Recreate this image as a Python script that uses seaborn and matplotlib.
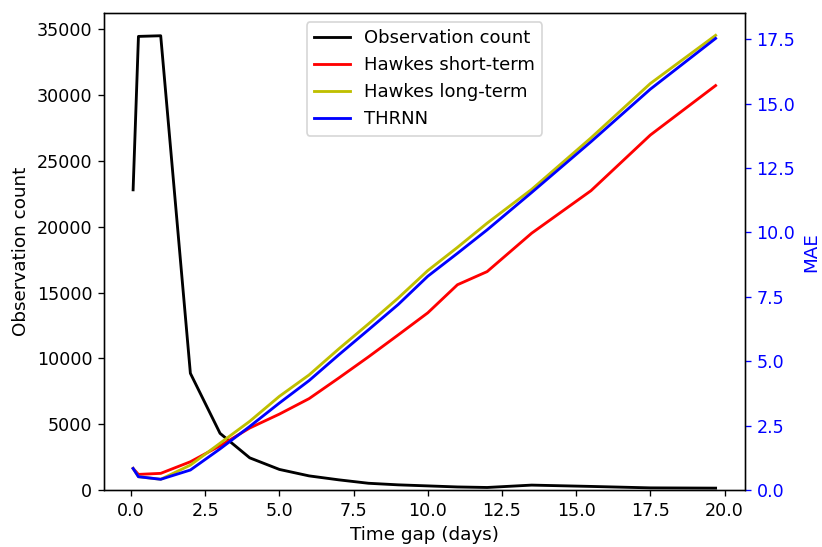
import matplotlib
matplotlib.use("Agg")
from matplotlib import pyplot as plt
import numpy as np
import pandas as pd
import seaborn as sns

# time gap (days)
gap = [0.07, 0.25, 1, 2, 3, 4, 5, 6, 7, 8, 9, 10, 11, 12, 13.5, 15.5, 17.5, 19.7]

# observation count per gap
count = [22800, 34450, 34500, 8870, 4310, 2450, 1570, 1080, 780, 520,
         400, 320, 240, 200, 380, 280, 170, 150]

# MAE for each model
hawkes_short = [0.84, 0.61, 0.65, 1.10, 1.72, 2.41, 2.95, 3.55, 4.35, 5.17,
                6.02, 6.88, 7.97, 8.48, 9.97, 11.62, 13.78, 15.70]
hawkes_long = [0.84, 0.52, 0.42, 0.97, 1.82, 2.67, 3.64, 4.47, 5.48, 6.45,
               7.45, 8.52, 9.42, 10.36, 11.67, 13.67, 15.78, 17.65]
thrnn = [0.84, 0.52, 0.42, 0.78, 1.60, 2.47, 3.38, 4.25, 5.25, 6.22,
         7.20, 8.30, 9.19, 10.10, 11.55, 13.52, 15.56, 17.53]

df = pd.DataFrame({"gap": gap, "count": count, "short": hawkes_short,
                   "long": hawkes_long, "thrnn": thrnn})

fig = plt.figure(figsize=(822/120, 547/120), dpi=120)
ax = fig.add_axes([0.1265, 0.104, 0.7795, 0.872])
ax2 = ax.twinx()

sns.lineplot(data=df, x="gap", y="count", ax=ax, color="k", lw=1.7, label="Observation count")
sns.lineplot(data=df, x="gap", y="short", ax=ax2, color="r", lw=1.7, label="Hawkes short-term")
sns.lineplot(data=df, x="gap", y="long", ax=ax2, color="y", lw=1.7, label="Hawkes long-term")
sns.lineplot(data=df, x="gap", y="thrnn", ax=ax2, color="b", lw=1.7, label="THRNN")

ax.set_ylim(bottom=0)
ax2.set_ylim(bottom=0)
ax.set_xlabel("Time gap (days)", fontsize=11)
ax.set_ylabel("Observation count", fontsize=11)
ax2.set_ylabel("MAE", color="b", fontsize=11)
ax.tick_params(labelsize=10.5)
ax2.tick_params(axis="y", colors="b", labelsize=10.5)
ax2.spines["right"].set_color("k")

# one legend for both axes
h1, l1 = ax.get_legend_handles_labels()
h2, l2 = ax2.get_legend_handles_labels()
ax.get_legend().remove()
ax2.get_legend().remove()
ax2.legend(h1 + h2, l1 + l2, loc="upper center", fontsize=10.8)

fig.savefig("out.png", dpi=120)
